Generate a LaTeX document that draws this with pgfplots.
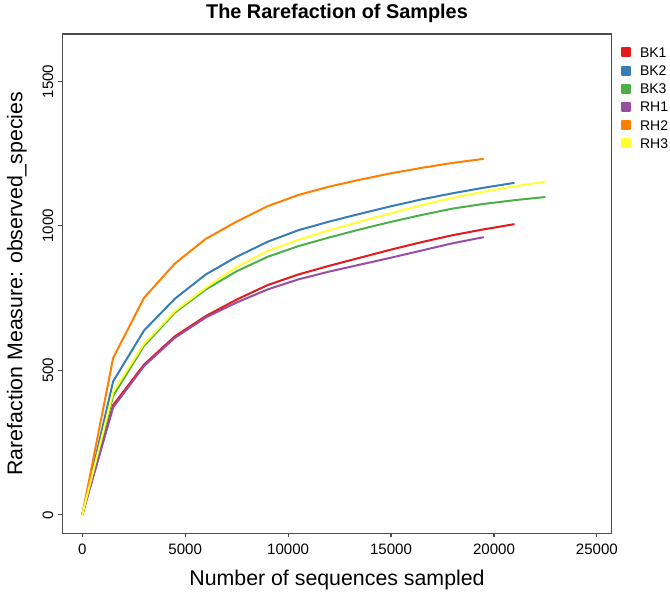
\documentclass[border=0pt]{standalone}
\usepackage{pgfplots}
\pgfplotsset{compat=1.18}
\usepackage{pgfplotstable}
\usepackage{fontspec}
\setmainfont{Liberation Sans}
\definecolor{cBKa}{HTML}{E41A1C}
\definecolor{cBKb}{HTML}{377EB8}
\definecolor{cBKc}{HTML}{4DAF4A}
\definecolor{cRHa}{HTML}{984EA3}
\definecolor{cRHb}{HTML}{FF7F00}
\definecolor{cRHc}{HTML}{FFFF33}
\pgfplotstableread{
x y
0 0
1500 380
3000 520
4500 618
6000 688
7500 745
9000 795
10500 832
12000 862
13500 890
15000 918
16500 944
18000 968
19500 988
21000 1006
}\BKa
\pgfplotstableread{
x y
0 0
1500 462
3000 638
4500 748
6000 832
7500 893
9000 945
10500 985
12000 1015
13500 1042
15000 1068
16500 1092
18000 1113
19500 1132
21000 1149
}\BKb
\pgfplotstableread{
x y
0 0
1500 412
3000 585
4500 700
6000 780
7500 843
9000 893
10500 930
12000 960
13500 988
15000 1014
16500 1038
18000 1060
19500 1076
21000 1089
22500 1100
}\BKc
\pgfplotstableread{
x y
0 0
1500 372
3000 515
4500 613
6000 683
7500 735
9000 780
10500 815
12000 842
13500 866
15000 890
16500 915
18000 940
19500 961
}\RHa
\pgfplotstableread{
x y
0 0
1500 543
3000 751
4500 870
6000 955
7500 1015
9000 1068
10500 1107
12000 1136
13500 1160
15000 1182
16500 1201
18000 1218
19500 1232
}\RHb
\pgfplotstableread{
x y
0 0
1500 425
3000 592
4500 705
6000 786
7500 858
9000 913
10500 952
12000 985
13500 1015
15000 1044
16500 1072
18000 1097
19500 1118
21000 1137
22500 1153
}\RHc
\begin{document}
\begin{tikzpicture}
\begin{axis}[
  width=412pt, height=374.5pt, scale only axis,
  xmin=-970, xmax=25720, ymin=-64, ymax=1664,
  axis line style={draw=black!70, line width=0.9pt},
  xtick={0,5000,10000,15000,20000,25000},
  ytick={0,500,1000,1500},
  tick pos=left, tick align=outside, major tick length=3pt,
  every tick/.style={black!70, line width=0.9pt},
  scaled ticks=false,
  /pgf/number format/1000 sep={},
  /pgf/number format/assume math mode=true,
  ticklabel style={font=\fontsize{11.3}{13}\selectfont},
  xticklabel style={anchor=north, inner sep=0pt, yshift=-5pt},
  yticklabel style={rotate=90, anchor=south, inner sep=0pt, yshift=3.5pt},
  xlabel={Number of sequences sampled},
  ylabel={Rarefaction Measure: observed\_species},
  label style={font=\fontsize{16}{19}\selectfont},
  xlabel style={at={(axis description cs:0.5,-0.0935)}, anchor=center},
  ylabel style={at={(axis description cs:-0.0825,0.5)}, anchor=center},
  title={The Rarefaction of Samples},
  title style={font=\bfseries\fontsize{14.9}{17}\selectfont, at={(axis description cs:0.5,1.026)}, anchor=center},
  legend image code/.code={\fill (0pt,-3pt) rectangle (6pt,3pt);},
  legend cell align=left,
  legend style={draw=none, fill=none, at={(1.0164,0.9816)}, anchor=north west,
    inner sep=0pt, outer sep=0pt, row sep=0pt, column sep=7pt,
    font=\fontsize{10.5}{12}\selectfont,
    nodes={inner sep=0pt, text height=10.59pt, text depth=3.07pt}},
  every axis plot/.append style={line width=1.5pt, line join=round, mark=none},
]
\addplot[cBKa] table[x=x,y=y]{\BKa};
\addlegendentry{BK1}
\addplot[cBKb] table[x=x,y=y]{\BKb};
\addlegendentry{BK2}
\addplot[cBKc] table[x=x,y=y]{\BKc};
\addlegendentry{BK3}
\addplot[cRHa] table[x=x,y=y]{\RHa};
\addlegendentry{RH1}
\addplot[cRHb] table[x=x,y=y]{\RHb};
\addlegendentry{RH2}
\addplot[cRHc] table[x=x,y=y]{\RHc};
\addlegendentry{RH3}
\end{axis}
\pgfresetboundingbox
\path[use as bounding box] ([shift={(-46.725pt,-47.775pt)}]current axis.south west) rectangle ([shift={(43.725pt,25.5pt)}]current axis.north east);
\end{tikzpicture}
\end{document}
